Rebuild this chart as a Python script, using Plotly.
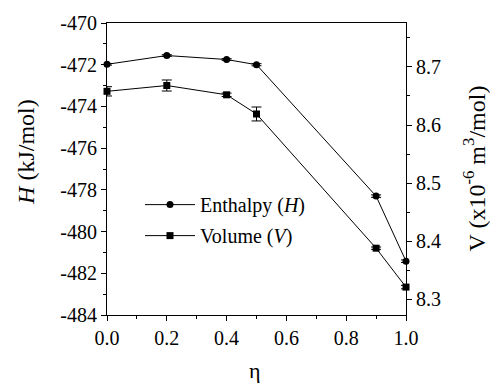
import plotly.graph_objects as go

eta = [0.0, 0.2, 0.4, 0.5, 0.9, 1.0]
enthalpy = [-471.98, -471.56, -471.75, -472.0, -478.3, -481.42]
enthalpy_err = [0.04, 0.04, 0.04, 0.05, 0.06, 0.06]
volume = [8.658, 8.668, 8.652, 8.619, 8.388, 8.321]
volume_err = [0.008, 0.0095, 0.003, 0.012, 0.002, 0.003]

h_ticks = [-484, -482, -480, -478, -476, -474, -472, -470]
v_ticks = [8.3, 8.4, 8.5, 8.6, 8.7]
x_ticks = [0.0, 0.2, 0.4, 0.6, 0.8, 1.0]

FONT = "Liberation Serif, Times New Roman, serif"

fig = go.Figure()
fig.add_trace(go.Scatter(
    x=eta, y=enthalpy, name="Enthalpy (<i>H</i>)", mode="lines+markers",
    legendgroup="h",
    line=dict(color="black", width=1),
    marker=dict(symbol="circle", size=7, color="black"),
    error_y=dict(type="data", array=enthalpy_err, color="black", thickness=1, width=5),
    cliponaxis=False, yaxis="y"))
fig.add_trace(go.Scatter(
    x=eta, y=volume, name="Volume (<i>V</i>)", mode="lines+markers",
    legendgroup="v",
    line=dict(color="black", width=1),
    marker=dict(symbol="square", size=7, color="black"),
    error_y=dict(type="data", array=volume_err, color="black", thickness=1, width=5),
    cliponaxis=False, yaxis="y2"))

axis_common = dict(showgrid=False, zeroline=False, showline=True, linecolor="black",
                   linewidth=1, ticks="outside", ticklen=5, tickcolor="black",
                   tickfont=dict(family=FONT, size=20, color="black"))

W, H = 299, 299
L, T = 107, 16

fig.update_layout(
    width=490, height=386,
    margin=dict(l=L, r=490 - L - W, t=T, b=386 - T - H),
    paper_bgcolor="white", plot_bgcolor="white",
    font=dict(family=FONT, color="black"),
    showlegend=True,
    legend=dict(x=(140 - L) / W, y=(315 - 182) / H, xanchor="left", yanchor="top",
                bgcolor="rgba(0,0,0,0)", font=dict(family=FONT, size=20, color="black"),
                tracegroupgap=2, itemwidth=50),
    xaxis=dict(range=[0, 1], tickvals=x_ticks, ticktext=[f"{v:.1f}" for v in x_ticks],
               minor=dict(dtick=0.1, ticks="outside", ticklen=3, tickcolor="black"),
               mirror=True, **axis_common),
    yaxis=dict(range=[-484, -470], tickvals=h_ticks, ticktext=[str(v) for v in h_ticks],
               minor=dict(dtick=1, ticks="outside", ticklen=3, tickcolor="black"),
               **axis_common),
    yaxis2=dict(range=[8.273, 8.7756], overlaying="y", side="right",
                tickvals=v_ticks, ticktext=[f"{v:.1f}" for v in v_ticks],
                minor=dict(tick0=8.25, dtick=0.05, ticks="outside", ticklen=3, tickcolor="black"),
                **axis_common),
    annotations=[
        dict(text="η", x=(255 - L) / W, y=(315 - 357) / H, xref="paper", yref="paper",
             showarrow=False, xanchor="center", yanchor="top",
             font=dict(family=FONT, size=22)),
        dict(text="<i>H</i> (kJ/mol)", x=(26 - L) / W, y=(315 - 148) / H,
             xref="paper", yref="paper", showarrow=False, textangle=-90,
             xanchor="center", yanchor="middle", font=dict(family=FONT, size=24)),
        dict(text="V (x10<sup>-6</sup> m<sup>3</sup>/mol)", x=(474 - L) / W, y=(315 - 165) / H,
             xref="paper", yref="paper", showarrow=False, textangle=-90,
             xanchor="center", yanchor="middle", font=dict(family=FONT, size=24)),
    ],
)

fig.write_html("out.html", config={"displayModeBar": False},
               post_script="document.body.style.margin='0';")
